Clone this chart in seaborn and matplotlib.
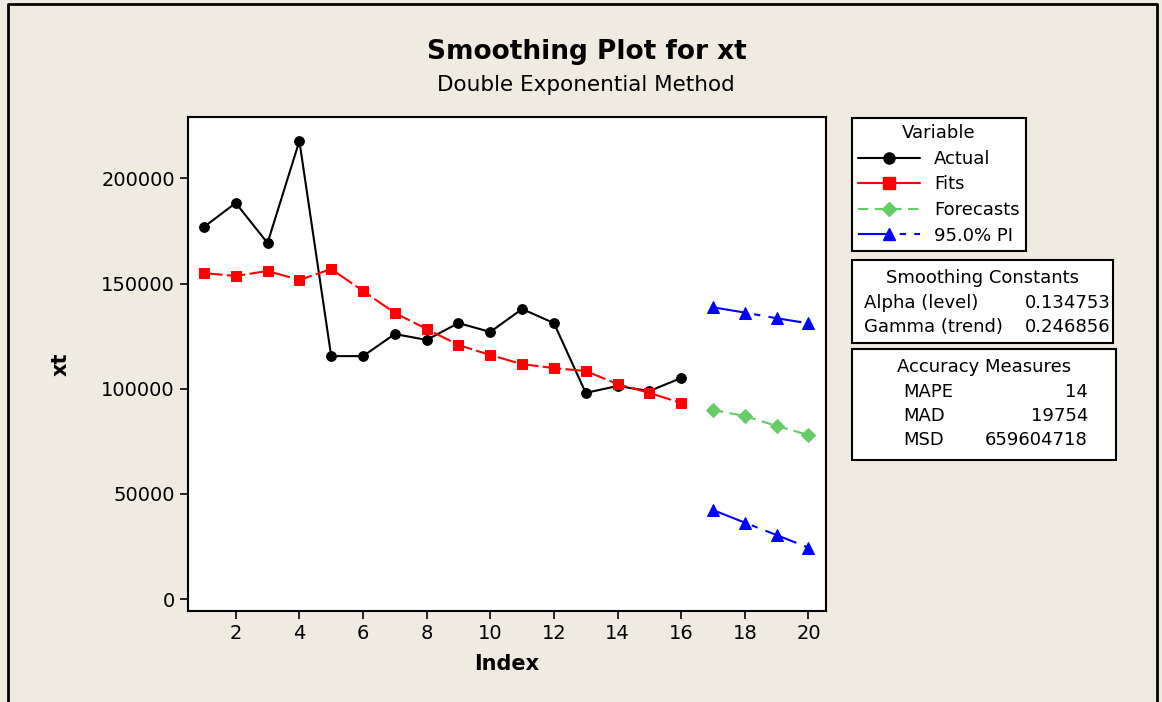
import seaborn as sns
import matplotlib.pyplot as plt
import pandas as pd
from matplotlib.patches import Rectangle
from matplotlib.lines import Line2D

# Datos
index_obs = list(range(1, 17))
actual = [176900, 188300, 169300, 217800, 115500, 115500, 126000, 123200,
          131200, 127000, 137900, 131200, 98000, 101300, 98900, 105100]
fits = [155000, 153600, 156000, 151700, 156900, 146500, 136000, 128400,
        120800, 116000, 111700, 109800, 108400, 102200, 98000, 93200]
index_fc = [17, 18, 19, 20]
forecasts = [89900, 87000, 82300, 78000]
pi_upper = [138700, 136200, 133500, 131100]
pi_lower = [42300, 36300, 30400, 24400]

const_labels = ["Alpha (level)", "Gamma (trend)"]
const_values = ["0.134753", "0.246856"]
acc_labels = ["MAPE", "MAD", "MSD"]
acc_values = ["14", "19754", "659604718"]

bg = "#efebe0"
sns.set_style("white")
plt.rcParams["font.family"] = ["DejaVu Sans"]
plt.rcParams["text.color"] = "black"
plt.rcParams["axes.labelcolor"] = "black"

obs = pd.DataFrame({"Index": index_obs, "Actual": actual, "Fits": fits})
fc = pd.DataFrame({"Index": index_fc, "Forecasts": forecasts,
                   "Upper": pi_upper, "Lower": pi_lower})

fig = plt.figure(figsize=(11.62, 7.02), dpi=100, facecolor=bg)
ax = fig.add_axes([188 / 1162, 1 - 611 / 702, (826 - 188) / 1162, (611 - 117) / 702])
ax.set_facecolor("white")

sns.lineplot(data=obs, x="Index", y="Actual", ax=ax, color="black", marker="o",
             markersize=7, linewidth=1.5, markeredgecolor="black")
sns.lineplot(data=obs, x="Index", y="Fits", ax=ax, color="red", marker="s",
             markersize=7.5, linewidth=1.5, markeredgecolor="red",
             linestyle=(0, (9, 2)))
sns.lineplot(data=fc, x="Index", y="Forecasts", ax=ax, color="#66cc66", marker="D",
             markersize=7, linewidth=1.5, markeredgecolor="#66cc66",
             linestyle=(0, (5, 3)))
pi_style = (0, (16, 4, 3, 4))
sns.lineplot(data=fc, x="Index", y="Upper", ax=ax, color="blue", marker="^",
             markersize=9, linewidth=1.5, markeredgecolor="blue", linestyle=pi_style)
sns.lineplot(data=fc, x="Index", y="Lower", ax=ax, color="blue", marker="^",
             markersize=9, linewidth=1.5, markeredgecolor="blue", linestyle=pi_style)

ax.set_xlim(0.5, 20.55)
ax.set_ylim(-5700, 229200)
ax.set_xticks(range(2, 21, 2))
ax.set_yticks(range(0, 200001, 50000))
ax.tick_params(axis="both", direction="out", length=6, width=1.2,
               labelsize=14, colors="black", left=True, bottom=True)
for s in ax.spines.values():
    s.set_color("black")
    s.set_linewidth(1.5)
ax.set_xlabel("Index", fontsize=15, fontweight="bold", labelpad=8)
ax.set_ylabel("xt", fontsize=15, fontweight="bold", labelpad=22)

fig.text(587 / 1162, 1 - 52 / 702, "Smoothing Plot for xt", ha="center", va="center",
         fontsize=19, fontweight="bold")
fig.text(586 / 1162, 1 - 85 / 702, "Double Exponential Method", ha="center", va="center",
         fontsize=15.5)

# Leyenda
handles = [
    Line2D([], [], color="black", marker="o", markersize=8, linewidth=1.5),
    Line2D([], [], color="red", marker="s", markersize=8, linewidth=1.5),
    Line2D([], [], color="#66cc66", marker="D", markersize=7.5, linewidth=1.5,
           linestyle=(0, (5, 3))),
    Line2D([], [], color="blue", marker="^", markersize=9, linewidth=1.5,
           linestyle=pi_style),
]
leg = ax.legend(handles, ["Actual", "Fits", "Forecasts", "95.0% PI"], title="Variable",
                loc="upper left", bbox_to_anchor=(852 / 1162, 1 - 118 / 702),
                bbox_transform=fig.transFigure, fontsize=13, title_fontsize=13,
                frameon=True, fancybox=False, edgecolor="black", handlelength=3.4,
                borderaxespad=0, labelspacing=0.42, borderpad=0.35, framealpha=1)
leg.get_frame().set_linewidth(1.5)
leg.get_frame().set_facecolor("white")


def info_box(x0, y0, x1, y1, title, labels, values, lab_x, val_x):
    fig.patches.append(Rectangle((x0 / 1162, 1 - y1 / 702), (x1 - x0) / 1162,
                                 (y1 - y0) / 702, transform=fig.transFigure,
                                 facecolor="white", edgecolor="black", linewidth=1.5))
    fig.text((x0 + x1) / 2 / 1162, 1 - (y0 + 18) / 702, title, ha="center",
             va="center", fontsize=13)
    for i, (l, v) in enumerate(zip(labels, values)):
        yy = 1 - (y0 + 43 + i * 24) / 702
        fig.text(lab_x / 1162, yy, l, ha="left", va="center", fontsize=13)
        fig.text(val_x / 1162, yy, v, ha="right", va="center", fontsize=13)


info_box(852, 260, 1113, 343, "Smoothing Constants", const_labels, const_values, 864, 1111)
info_box(852, 349, 1116, 460, "Accuracy Measures", acc_labels, acc_values, 903, 1088)

# Marco exterior
fig.add_artist(Line2D([8 / 1162, 8 / 1162, 1157 / 1162, 1157 / 1162],
                      [0, 1 - 4 / 702, 1 - 4 / 702, 0], color="black", linewidth=2,
                      transform=fig.transFigure))

fig.savefig("out.png", dpi=100, facecolor=bg)
